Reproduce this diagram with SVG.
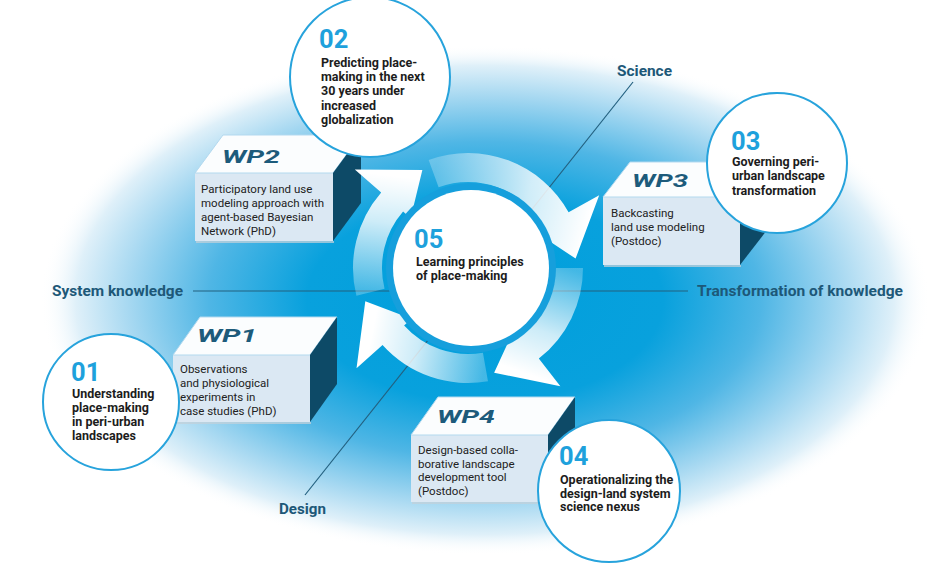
<svg xmlns="http://www.w3.org/2000/svg" width="930" height="565" viewBox="0 0 930 565">
<defs>
  <radialGradient id="glow" cx="0.5" cy="0.5" r="0.5">
    <stop offset="0" stop-color="#009fdc"/>
    <stop offset="0.4" stop-color="#08a1dd"/>
    <stop offset="0.62" stop-color="#4fb6e5"/>
    <stop offset="0.8" stop-color="#a6d8f1"/>
    <stop offset="0.92" stop-color="#dff0f9"/>
    <stop offset="1" stop-color="#ffffff" stop-opacity="0"/>
  </radialGradient>
  <linearGradient id="gTR" gradientUnits="userSpaceOnUse" x1="434" y1="174" x2="590" y2="215">
    <stop offset="0" stop-color="#fff" stop-opacity="0.25"/>
    <stop offset="0.6" stop-color="#fff" stop-opacity="0.8"/>
    <stop offset="1" stop-color="#fff" stop-opacity="1"/>
  </linearGradient>
  <linearGradient id="gBR" gradientUnits="userSpaceOnUse" x1="568" y1="268" x2="530" y2="375">
    <stop offset="0" stop-color="#fff" stop-opacity="0.25"/>
    <stop offset="0.6" stop-color="#fff" stop-opacity="0.8"/>
    <stop offset="1" stop-color="#fff" stop-opacity="1"/>
  </linearGradient>
  <linearGradient id="gBL" gradientUnits="userSpaceOnUse" x1="485" y1="367" x2="370" y2="345">
    <stop offset="0" stop-color="#fff" stop-opacity="0.25"/>
    <stop offset="0.6" stop-color="#fff" stop-opacity="0.8"/>
    <stop offset="1" stop-color="#fff" stop-opacity="1"/>
  </linearGradient>
  <linearGradient id="gTL" gradientUnits="userSpaceOnUse" x1="370" y1="292" x2="385" y2="175">
    <stop offset="0" stop-color="#fff" stop-opacity="0.25"/>
    <stop offset="0.6" stop-color="#fff" stop-opacity="0.8"/>
    <stop offset="1" stop-color="#fff" stop-opacity="1"/>
  </linearGradient>
</defs>
<style>
  .axis{font-family:Roboto,"Liberation Sans",sans-serif;font-weight:700;font-size:15.5px;fill:#1d5878}
  .num{font-family:Roboto,"Liberation Sans",sans-serif;font-weight:700;font-size:25.5px;fill:#1ea1dc}
  .ct{font-family:Roboto,"Liberation Sans",sans-serif;font-weight:700;font-size:12.5px;fill:#1c1c1c}
  .bt{font-family:Roboto,"Liberation Sans",sans-serif;font-size:11.5px;fill:#222}
  .wp{font-family:Roboto,"Liberation Sans",sans-serif;font-weight:700;font-style:italic;font-size:18.5px;fill:#1d5b7b}
  .circ{fill:#fff;stroke:#27a3dc;stroke-width:2}
  .front{fill:#dbe8f3}
  .top{fill:#fbfdfe;stroke:#b3d9ef;stroke-width:1}
  .side{fill:#0d4a67}
  .shadow{stroke:#c2d0da;stroke-width:1.5}
  .axisline{stroke:#23607f;stroke-width:1.2;fill:none}
</style>

<!-- background glow -->
<ellipse cx="485" cy="300" rx="445" ry="255" fill="url(#glow)"/>

<!-- connectors: axes -->
<g id="connectors">
  <line class="axisline" x1="193" y1="291" x2="688" y2="291"/>
  <line class="axisline" x1="633" y1="82" x2="305" y2="495"/>
</g>

<!-- axis labels -->
<g id="axis-labels">
  <text class="axis" x="52" y="296" textLength="131" lengthAdjust="spacingAndGlyphs">System knowledge</text>
  <text class="axis" x="697" y="296" textLength="206" lengthAdjust="spacingAndGlyphs">Transformation of knowledge</text>
  <text class="axis" x="617" y="76" textLength="55" lengthAdjust="spacingAndGlyphs">Science</text>
  <text class="axis" x="279" y="514" textLength="47" lengthAdjust="spacingAndGlyphs">Design</text>
</g>

<!-- WP2 box (under the cycle arrow) -->
<g id="wp2">
  <line class="shadow" x1="196" y1="242" x2="334" y2="242"/>
  <rect class="front" x="195" y="173" width="138" height="68"/>
  <polygon class="top" points="195,173 223,135 361,135 333,173"/>
  <polygon class="side" points="333,173 361,135 361,203 333,241"/>
  <text class="wp" x="222" y="163" textLength="58" lengthAdjust="spacingAndGlyphs">WP2</text>
  <text class="bt" x="201" y="193">Participatory land use</text>
  <text class="bt" x="201" y="207">modeling approach with</text>
  <text class="bt" x="201" y="221">agent-based Bayesian</text>
  <text class="bt" x="201" y="235">Network (PhD)</text>
</g>

<!-- cycle arrows -->
<g id="cycle">
  <path fill="url(#gTR)" d="M428.67,159.94 A115,115 0 0 1 568.58,212.25 L599.19,195.28 L575.59,258.59 L534.47,231.15 L543.22,226.31 A86,86 0 0 0 438.59,187.19 Z"/>
  <path fill="url(#gBR)" d="M583,268 A115,115 0 0 1 538.80,358.62 L560.35,386.20 L494.13,372.79 L514.79,327.89 L520.95,335.77 A86,86 0 0 0 554,268 Z"/>
  <path fill="url(#gBL)" d="M487.97,381.25 A115,115 0 0 1 382.54,344.95 L356.53,368.37 L365.29,301.37 L411.52,318.85 L404.09,325.55 A86,86 0 0 0 482.93,352.69 Z"/>
  <path fill="url(#gTL)" d="M356.42,295.82 A115,115 0 0 1 381.21,192.55 L354.79,169.59 L422.36,170.12 L410.64,218.14 L403.09,211.58 A86,86 0 0 0 384.55,288.81 Z"/>
</g>

<!-- central node 05 -->
<g id="node-05">
  <circle cx="471" cy="268" r="85" fill="#169fdc"/>
  <circle cx="471" cy="268" r="78" fill="#fff"/>
  <text class="num" x="414" y="248">05</text>
  <text class="ct" x="416" y="265.5">Learning principles</text>
  <text class="ct" x="416" y="280">of place-making</text>
</g>

<!-- WP1 box -->
<g id="wp1">
  <line class="shadow" x1="174" y1="423" x2="311" y2="423"/>
  <rect class="front" x="173" y="355" width="137" height="67"/>
  <polygon class="top" points="173,355 200,317 337,317 310,355"/>
  <polygon class="side" points="310,355 337,317 337,384 310,422"/>
  <text class="wp" x="197" y="342" textLength="60" lengthAdjust="spacingAndGlyphs">WP1</text>
  <text class="bt" x="180" y="373">Observations</text>
  <text class="bt" x="180" y="387">and physiological</text>
  <text class="bt" x="180" y="401">experiments in</text>
  <text class="bt" x="180" y="415">case studies (PhD)</text>
</g>

<!-- WP3 box -->
<g id="wp3">
  <line class="shadow" x1="604" y1="266" x2="741" y2="266"/>
  <rect class="front" x="603" y="197" width="137" height="68"/>
  <polygon class="top" points="603,197 630,162 767,162 740,197"/>
  <polygon class="side" points="740,197 767,162 767,230 740,265"/>
  <text class="wp" x="632" y="187" textLength="56" lengthAdjust="spacingAndGlyphs">WP3</text>
  <text class="bt" x="611" y="217">Backcasting</text>
  <text class="bt" x="611" y="231">land use modeling</text>
  <text class="bt" x="611" y="245">(Postdoc)</text>
</g>

<!-- WP4 box -->
<g id="wp4">
  <line class="shadow" x1="412" y1="503" x2="549" y2="503"/>
  <rect class="front" x="411" y="435" width="137" height="67"/>
  <polygon class="top" points="411,435 438,397 575,397 548,435"/>
  <polygon class="side" points="548,435 575,397 575,464 548,502"/>
  <text class="wp" x="437" y="423" textLength="58" lengthAdjust="spacingAndGlyphs">WP4</text>
  <text class="bt" x="418" y="454">Design-based colla-</text>
  <text class="bt" x="418" y="467.5">borative landscape</text>
  <text class="bt" x="418" y="481">development tool</text>
  <text class="bt" x="418" y="494.5">(Postdoc)</text>
</g>

<!-- node 01 -->
<g id="node-01">
  <circle class="circ" cx="111" cy="402" r="68"/>
  <text class="num" x="71" y="381">01</text>
  <text class="ct" x="72" y="398">Understanding</text>
  <text class="ct" x="72" y="412">place-making</text>
  <text class="ct" x="72" y="426">in peri-urban</text>
  <text class="ct" x="72" y="440">landscapes</text>
</g>

<!-- node 02 -->
<g id="node-02">
  <circle class="circ" cx="370" cy="77" r="80"/>
  <text class="num" x="319" y="48">02</text>
  <text class="ct" x="321" y="66.7">Predicting place-</text>
  <text class="ct" x="321" y="81">making in the next</text>
  <text class="ct" x="321" y="95">30 years under</text>
  <text class="ct" x="321" y="109.5">increased</text>
  <text class="ct" x="321" y="123.5">globalization</text>
</g>

<!-- node 03 -->
<g id="node-03">
  <circle class="circ" cx="777" cy="163" r="70"/>
  <text class="num" x="731" y="150">03</text>
  <text class="ct" x="732" y="165.5">Governing peri-</text>
  <text class="ct" x="732" y="180">urban landscape</text>
  <text class="ct" x="732" y="194.5">transformation</text>
</g>

<!-- node 04 -->
<g id="node-04">
  <circle class="circ" cx="609" cy="491" r="71"/>
  <text class="num" x="559" y="465">04</text>
  <text class="ct" x="560" y="484">Operationalizing the</text>
  <text class="ct" x="560" y="497.5">design-land system</text>
  <text class="ct" x="560" y="511">science nexus</text>
</g>
</svg>
